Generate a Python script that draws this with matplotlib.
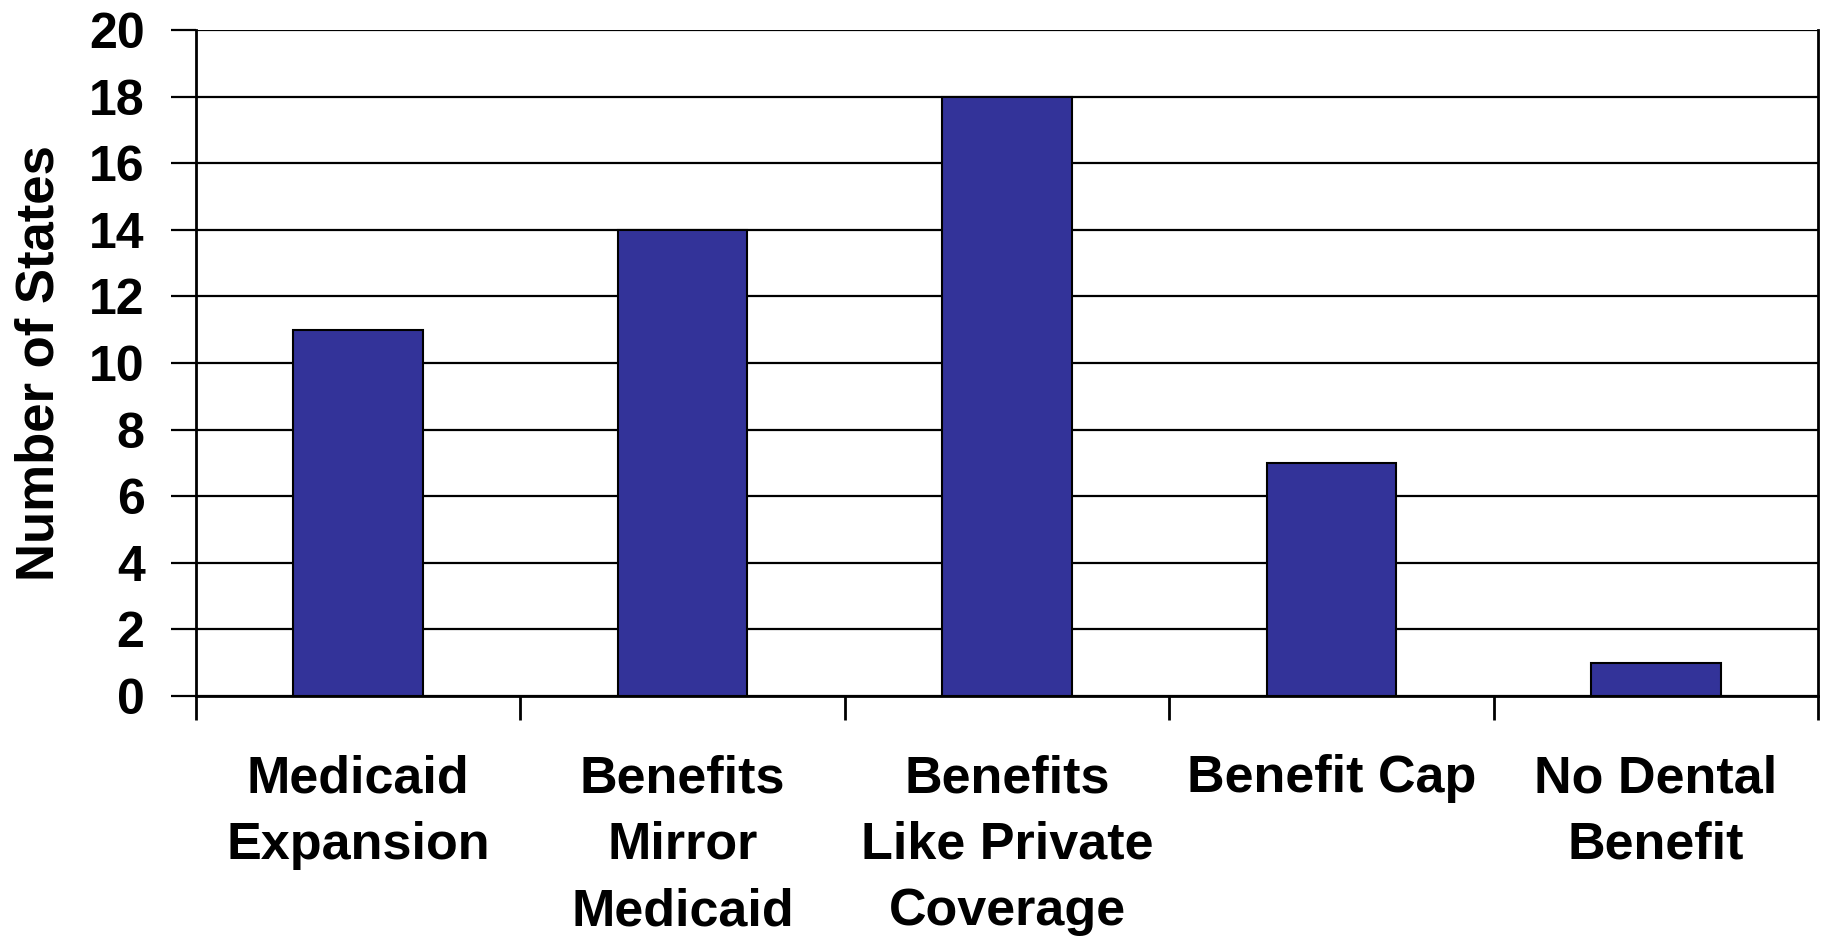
import numpy as np
import matplotlib
matplotlib.use("Agg")
import matplotlib.pyplot as plt

categories = ["Medicaid\nExpansion", "Benefits\nMirror\nMedicaid",
              "Benefits\nLike Private\nCoverage", "Benefit Cap", "No Dental\nBenefit"]
states = [11, 14, 18, 7, 1]
y_ticks = [0, 2, 4, 6, 8, 10, 12, 14, 16, 18, 20]

plt.rcParams['font.family'] = ['Liberation Sans', 'DejaVu Sans']
plt.rcParams['font.weight'] = 'bold'

fig = plt.figure(figsize=(18.26, 9.41), dpi=100)
ax = fig.add_axes([196/1826, 1-696/941, (1818-196)/1826, (696-30)/941])

x = np.arange(len(categories))
ax.bar(x, states, width=0.4, color='#333399', edgecolor='black', linewidth=1.5, zorder=3)

ax.set_xlim(-0.5, len(categories) - 0.5)
ax.set_ylim(0, 20)
ax.set_yticks(y_ticks)
ax.set_yticklabels([str(v) for v in y_ticks], fontsize=36, fontweight='bold')
ax.yaxis.grid(True, color='black', linewidth=1.6, zorder=0)
ax.set_axisbelow(True)

ax.set_xticks(x)
ax.set_xticklabels(categories, fontsize=37.5, fontweight='bold', linespacing=1.46)
ax.set_xticks(np.arange(-0.5, len(categories)), minor=True)
ax.tick_params(axis='x', which='major', length=0, pad=42)
ax.tick_params(axis='x', which='minor', length=17, width=2, direction='out')
ax.tick_params(axis='y', length=18, width=1.6, direction='out', pad=19)

for s in ['left', 'bottom', 'right']:
    ax.spines[s].set_linewidth(2)
ax.spines['top'].set_visible(False)

ax.set_ylabel("Number of States", fontsize=38, fontweight='bold')
ax.yaxis.set_label_coords(-0.081, 0.5)

fig.savefig("out.png", dpi=100, facecolor='white')
